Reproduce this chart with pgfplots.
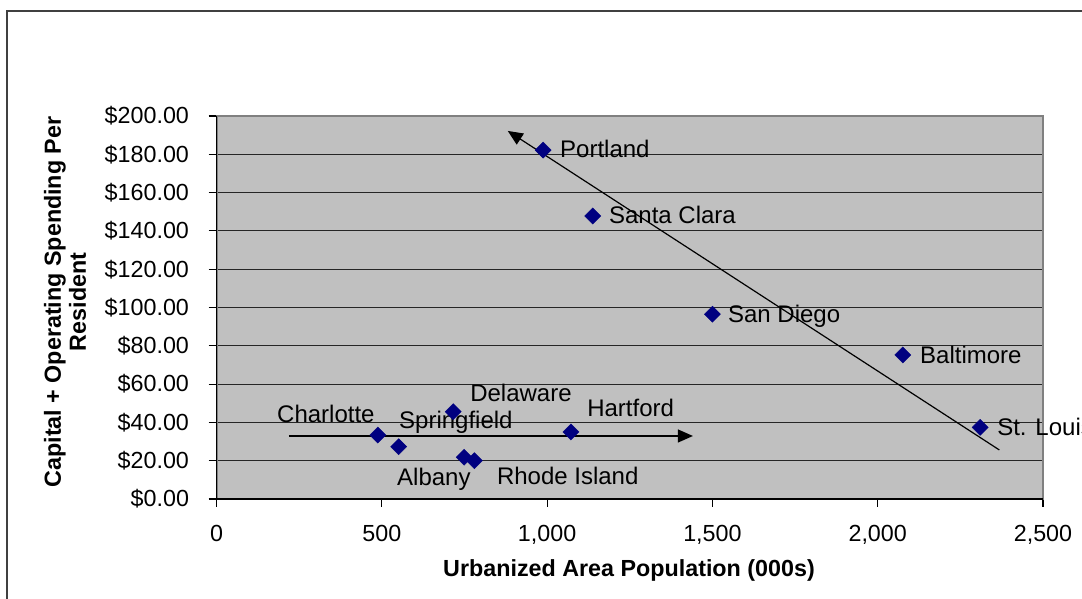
\documentclass[border=0pt]{standalone}
\usepackage{pgfplots}
\pgfplotsset{compat=1.18}
\usepackage{fontspec}
\setmainfont{Liberation Sans}
\usetikzlibrary{arrows.meta}
\definecolor{navy}{RGB}{0,0,128}
\definecolor{plotbg}{RGB}{192,192,192}
\definecolor{bordergray}{RGB}{128,128,128}
\definecolor{framegray}{RGB}{64,64,64}
\begin{document}
\begin{tikzpicture}
\pgfplotstableread{
x y
988 182.2
1138 147.8
1500 96.5
2076 75.2
2310 37.4
488 33.4
551 27.3
716 45.6
749 21.8
780 20.0
1072 35.0
}\pts
\draw[framegray, line width=2pt] (7pt,-20pt) -- (7pt,588pt) -- (1110pt,588pt);
\begin{axis}[
  scale only axis, width=826.5pt, height=383pt,
  at={(216.5pt,100pt)}, anchor=south west,
  xmin=0, xmax=2500, ymin=0, ymax=200,
  xtick={0,500,...,2500}, ytick={0,20,...,200},
  axis background/.style={fill=plotbg},
  ymajorgrids, grid style={black!85, line width=0.9pt},
  axis line style={draw=bordergray, line width=2pt},
  tick align=outside, major tick length=8pt,
  tick style={black, line width=1.1pt},
  xtick pos=bottom, ytick pos=left,
  /pgf/number format/assume math mode=true,
  /pgf/number format/1000 sep={,},
  ticklabel style={font=\fontsize{23.3}{28}\selectfont},
  yticklabel style={xshift=-16pt},
  xticklabel style={yshift=-15pt},
  yticklabel={\$\pgfmathprintnumber[fixed,fixed zerofill,precision=2]{\tick}},
  clip=false,
]
\addplot[only marks, mark=square*, mark size=5.7pt, color=navy,
  mark options={rotate=45, fill=navy, draw=navy}] table[x=x,y=y]{\pts};
\addplot[black, line width=1.2pt, -{Triangle[length=15pt,width=13pt]}] coordinates {(2368,25.6) (881,192.2)};
\addplot[black, line width=1.2pt, -{Triangle[length=15pt,width=13pt]}] coordinates {(219,32.9) (1441,32.9)};
\draw[black, line width=1.3pt] (rel axis cs:0,1) -- (rel axis cs:0,0) -- (rel axis cs:1,0);
\begin{scope}[every node/.style={anchor=base west, inner sep=0pt, font=\fontsize{24}{28}\selectfont}]
\node at (axis cs:1039,178.1) {Portland};
\node at (axis cs:1187,144.1) {Santa Clara};
\node at (axis cs:1547,92.4) {San Diego};
\node at (axis cs:2128,71.0) {Baltimore};
\node at (axis cs:2361,33.4) {St. Louis};
\node at (axis cs:183,39.8) {Charlotte};
\node at (axis cs:552,36.6) {Springfield};
\node at (axis cs:767,50.8) {Delaware};
\node at (axis cs:546,6.8) {Albany};
\node at (axis cs:848,7.8) {Rhode Island};
\node at (axis cs:1121,43.3) {Hartford};
\end{scope}
\end{axis}
\node[anchor=base, inner sep=0pt, font=\bfseries\fontsize{23.3}{28}\selectfont] at (629pt,22pt) {Urbanized Area Population (000s)};
\node[rotate=90, align=center, inner sep=0pt, font=\bfseries\fontsize{23.3}{25}\selectfont] at (65pt,297pt) {Capital + Operating Spending Per\\Resident};
\pgfresetboundingbox
\useasboundingbox (0pt,0pt) rectangle (1082pt,599pt);
\end{tikzpicture}
\end{document}
